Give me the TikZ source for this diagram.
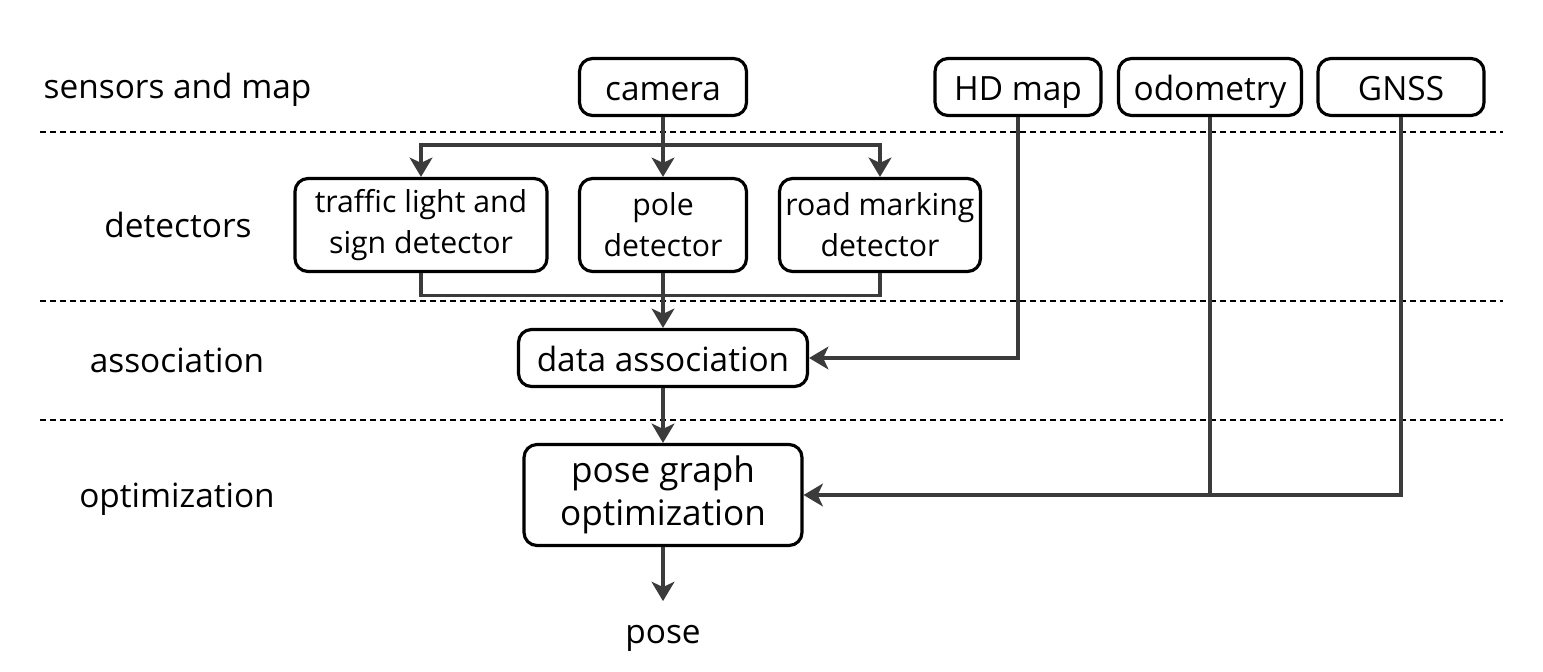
\documentclass[tikz,border=0pt]{standalone}
\usepackage{fontspec}
\setmainfont{Open Sans}
\usetikzlibrary{arrows.meta}

\begin{document}
\begin{tikzpicture}[x=0.1mm, y=-0.1mm, >={Stealth[inset=1.5pt, length=5.5pt, width=6.5pt]},
            font=\fontsize{9.5}{13}\selectfont,
            box/.style={draw=black, line width=0.9pt, rounded corners=1.3mm, align=center, inner sep=0pt},
            oneline/.style={box, minimum height=5.7mm, text height=3mm, text depth=0.3mm},
            twoline/.style={box, minimum height=9.3mm, font=\fontsize{8.6}{11.6}\selectfont},
            link/.style={draw=black!77, line width=0.9pt},
            layer/.style={draw=black, line width=0.55pt, dash pattern=on 0.6mm off 0.4mm}]
            \useasboundingbox (0, 0) rectangle (1543, 672);
            % layer separators
            \draw[layer] (40, 132) -- (1503, 132);
            \draw[layer] (40, 301) -- (1503, 301);
            \draw[layer] (40, 420) -- (1503, 420);
            % layer names
            \node[anchor=base west, inner sep=0pt] (lsensors) at (43, 98) {sensors and map};
            \node[anchor=base, inner sep=0pt] (ldetectors) at (178, 237) {detectors};
            \node[anchor=base, inner sep=0pt] (lassoc) at (177, 372) {association};
            \node[anchor=base, inner sep=0pt] (lopt) at (177, 507) {optimization};
            % sensors and map
            \node[oneline, minimum width=16.7mm] (camera) at (663, 87) {camera};
            \node[oneline, minimum width=16.6mm] (hdmap) at (1018, 87) {HD map};
            \node[oneline, minimum width=18.3mm] (odom) at (1210, 87) {odometry};
            \node[oneline, minimum width=16.6mm] (gnss) at (1401, 87) {GNSS};
            % detectors
            \node[twoline, minimum width=25.2mm] (traffic) at (421, 225) {traffic light and\\sign detector};
            \node[twoline, minimum width=16.7mm] (pole) at (663, 225) {pole\\detector};
            \node[twoline, minimum width=20.1mm] (road) at (880, 225) {road marking\\detector};
            % association and optimization
            \node[oneline, minimum width=28.9mm] (assoc) at (663, 358) {data association};
            \node[box, minimum width=27.8mm, minimum height=10.1mm, font=\fontsize{10}{12.2}\selectfont] (pgo) at (663, 495) {pose graph\\optimization};
            \node[anchor=base, inner xsep=0pt, inner ysep=2.3mm] (pose) at (663, 643) {pose};
            \coordinate (split) at (663, 145);
            \draw[link] (camera) -- (split);
            \draw[link, ->] (split) -| (traffic.north);
            \draw[link, ->] (split) -- (pole);
            \draw[link, ->] (split) -| (road.north);
            \draw[link] (traffic.south) -- ++(0, 22) -| (road.south);
            \draw[link, ->] (pole) -- (assoc);
            \draw[link, ->] (hdmap.south) |- (assoc.east);
            \draw[link, ->] (assoc) -- (pgo);
            \draw[link, ->] (odom.south) |- (pgo.east);
            \draw[link] (gnss.south) |- (odom.south |- pgo.east);
            \draw[link, ->] (pgo) -- (pose);
\end{tikzpicture}
\end{document}
